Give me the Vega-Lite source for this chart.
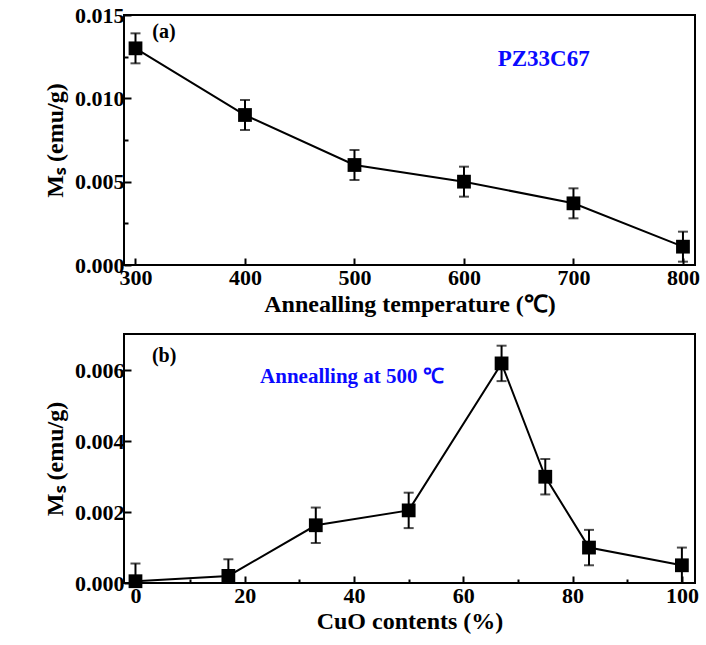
{
  "$schema": "https://vega.github.io/schema/vega-lite/v6.json",
  "padding": {"left": 42, "top": 3, "right": 5, "bottom": 5},
  "background": "white",
  "spacing": 16,
  "config": {
    "view": {"stroke": "black", "strokeWidth": 2},
    "axis": {
      "domain": false,
      "grid": false,
      "labelFont": "Liberation Serif",
      "labelFontWeight": "bold",
      "labelFontSize": 22,
      "labelColor": "black",
      "titleFont": "Liberation Serif",
      "titleFontWeight": "bold",
      "titleFontSize": 24,
      "titleColor": "black",
      "tickColor": "black",
      "tickWidth": 2
    }
  },
  "vconcat": [
    {
      "width": 571,
      "height": 250,
      "data": {"values": [
        {"T": 300, "Ms": 0.0130, "err": 0.0009},
        {"T": 400, "Ms": 0.0090, "err": 0.0009},
        {"T": 500, "Ms": 0.0060, "err": 0.0009},
        {"T": 600, "Ms": 0.0050, "err": 0.0009},
        {"T": 700, "Ms": 0.0037, "err": 0.0009},
        {"T": 800, "Ms": 0.0011, "err": 0.0009}
      ]},
      "layer": [
        {
          "mark": {"type": "line", "color": "black", "strokeWidth": 2},
          "encoding": {
            "x": {"field": "T", "type": "quantitative", "title": "Annealling temperature (℃)",
              "scale": {"domain": [289.5, 811], "nice": false, "zero": false},
              "axis": {"values": [300, 400, 500, 600, 700, 800], "tickSize": -7, "labelPadding": 9, "titlePadding": 4}},
            "y": {"field": "Ms", "type": "quantitative", "title": "Mₛ (emu/g)",
              "scale": {"domain": [0, 0.015], "nice": false},
              "axis": {"values": [0, 0.0025, 0.005, 0.0075, 0.01, 0.0125, 0.015],
                "labelExpr": "round(datum.value*10000) % 50 == 0 ? format(datum.value, '.3f') : ''",
                "tickSize": {"condition": {"test": "round(datum.value*10000) % 50 == 0", "value": -7}, "value": -4},
                "labelPadding": 7, "titlePadding": 7}}
          }
        },
        {
          "mark": {"type": "errorbar", "color": "black", "thickness": 2, "rule": {"strokeWidth": 2}, "ticks": {"size": 10, "thickness": 2, "color": "black"}},
          "encoding": {
            "x": {"field": "T", "type": "quantitative", "title": "Annealling temperature (℃)"},
            "y": {"field": "Ms", "type": "quantitative", "title": "Mₛ (emu/g)"},
            "yError": {"field": "err"}
          }
        },
        {
          "mark": {"type": "square", "color": "black", "filled": true, "opacity": 1, "size": 190},
          "encoding": {
            "x": {"field": "T", "type": "quantitative", "title": "Annealling temperature (℃)"},
            "y": {"field": "Ms", "type": "quantitative", "title": "Mₛ (emu/g)"}
          }
        },
        {
          "data": {"values": [{"x": 326, "y": 0.01398, "label": "(a)"}]},
          "mark": {"type": "text", "font": "Liberation Serif", "fontWeight": "bold", "fontSize": 20, "color": "black"},
          "encoding": {
            "x": {"field": "x", "type": "quantitative", "title": "Annealling temperature (℃)"},
            "y": {"field": "y", "type": "quantitative", "title": "Mₛ (emu/g)"},
            "text": {"field": "label"}
          }
        },
        {
          "data": {"values": [{"x": 672.8, "y": 0.01236, "label": "PZ33C67"}]},
          "mark": {"type": "text", "font": "Liberation Serif", "fontWeight": "bold", "fontSize": 23, "color": "#0a0aff"},
          "encoding": {
            "x": {"field": "x", "type": "quantitative", "title": "Annealling temperature (℃)"},
            "y": {"field": "y", "type": "quantitative", "title": "Mₛ (emu/g)"},
            "text": {"field": "label"}
          }
        }
      ]
    },
    {
      "width": 571,
      "height": 249,
      "data": {"values": [
        {"CuO": 0, "Ms": 0.00005, "err": 0.0005},
        {"CuO": 17, "Ms": 0.0002, "err": 0.00047},
        {"CuO": 33, "Ms": 0.00163, "err": 0.0005},
        {"CuO": 50, "Ms": 0.00205, "err": 0.0005},
        {"CuO": 67, "Ms": 0.0062, "err": 0.0005},
        {"CuO": 75, "Ms": 0.0030, "err": 0.0005},
        {"CuO": 83, "Ms": 0.0010, "err": 0.0005},
        {"CuO": 100, "Ms": 0.0005, "err": 0.0005}
      ]},
      "layer": [
        {
          "mark": {"type": "line", "color": "black", "strokeWidth": 2},
          "encoding": {
            "x": {"field": "CuO", "type": "quantitative", "title": "CuO contents (%)",
              "scale": {"domain": [-2.1, 102.4], "nice": false, "zero": false},
              "axis": {"values": [0, 10, 20, 30, 40, 50, 60, 70, 80, 90, 100],
                "labelExpr": "datum.value % 20 == 0 ? datum.label : ''",
                "tickSize": {"condition": {"test": "datum.value % 20 == 0", "value": -7}, "value": -4},
                "labelPadding": 9, "titlePadding": 3}},
            "y": {"field": "Ms", "type": "quantitative", "title": "Mₛ (emu/g)",
              "scale": {"domain": [0, 0.00703], "nice": false},
              "axis": {"values": [0, 0.001, 0.002, 0.003, 0.004, 0.005, 0.006, 0.007],
                "labelExpr": "round(datum.value*1000) % 2 == 0 ? format(datum.value, '.3f') : ''",
                "tickSize": {"condition": {"test": "round(datum.value*1000) % 2 == 0", "value": -7}, "value": -4},
                "labelPadding": 7, "titlePadding": 7}}
          }
        },
        {
          "mark": {"type": "errorbar", "color": "black", "thickness": 2, "clip": true, "rule": {"strokeWidth": 2}, "ticks": {"size": 10, "thickness": 2, "color": "black"}},
          "encoding": {
            "x": {"field": "CuO", "type": "quantitative", "title": "CuO contents (%)"},
            "y": {"field": "Ms", "type": "quantitative", "title": "Mₛ (emu/g)"},
            "yError": {"field": "err"}
          }
        },
        {
          "mark": {"type": "square", "color": "black", "filled": true, "opacity": 1, "size": 190},
          "encoding": {
            "x": {"field": "CuO", "type": "quantitative", "title": "CuO contents (%)"},
            "y": {"field": "Ms", "type": "quantitative", "title": "Mₛ (emu/g)"}
          }
        },
        {
          "data": {"values": [{"x": 5.25, "y": 0.0064, "label": "(b)"}]},
          "mark": {"type": "text", "font": "Liberation Serif", "fontWeight": "bold", "fontSize": 20, "color": "black"},
          "encoding": {
            "x": {"field": "x", "type": "quantitative", "title": "CuO contents (%)"},
            "y": {"field": "y", "type": "quantitative", "title": "Mₛ (emu/g)"},
            "text": {"field": "label"}
          }
        },
        {
          "data": {"values": [{"x": 22.8, "y": 0.00583, "label": "Annealling at 500 ℃"}]},
          "mark": {"type": "text", "align": "left", "font": "Liberation Serif", "fontWeight": "bold", "fontSize": 21, "color": "#0a0aff"},
          "encoding": {
            "x": {"field": "x", "type": "quantitative", "title": "CuO contents (%)"},
            "y": {"field": "y", "type": "quantitative", "title": "Mₛ (emu/g)"},
            "text": {"field": "label"}
          }
        }
      ]
    }
  ]
}
